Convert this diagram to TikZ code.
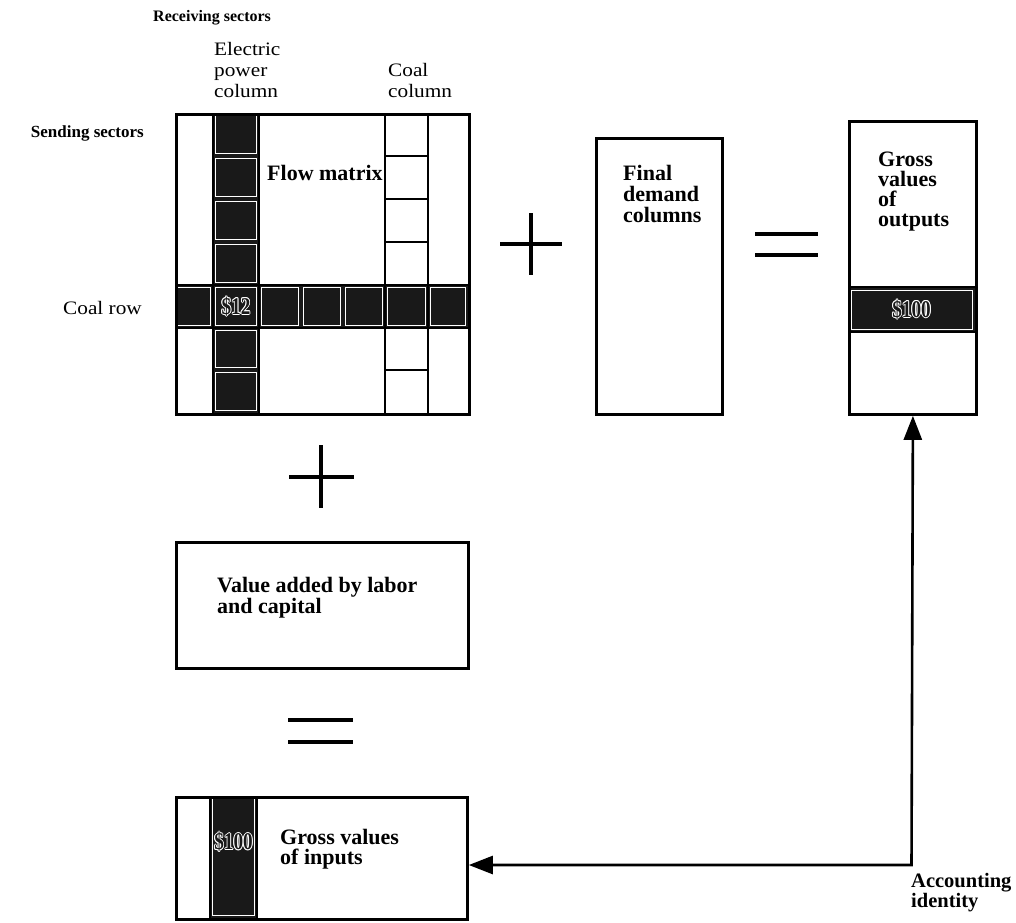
\documentclass[tikz,border=0pt]{standalone}
\usepackage{fontspec}
\setmainfont{Liberation Serif}
\newfontfamily\regfont[FakeStretch=1.12]{Liberation Serif}
\newfontfamily\moneyfont[FakeStretch=0.8]{Liberation Serif}
\usetikzlibrary{arrows.meta}
\newcommand{\hollowtext}[3]{%
  \foreach \a in {0,45,...,315} {\path (#2) ++(\a:0.9pt) node[money, text=white] {#3};}
  \node[money, text=black!90] (#1) at (#2) {#3};
}
\begin{document}
\begin{tikzpicture}[x=1pt,y=-1pt,
  box/.style={draw, line width=2.8pt, rectangle, inner sep=0pt, anchor=north west},
  thinline/.style={line width=1.4pt},
  darkcell/.style={fill=black!90},
  halo/.style={draw=white, line width=0.9pt},
  btxt/.style={font=\fontsize{22}{20}\selectfont\bfseries, inner sep=0pt, align=left},
  hdr/.style={font=\fontsize{16}{19}\selectfont\bfseries, inner sep=0pt, align=left},
  rtxt/.style={font=\fontsize{19}{21}\selectfont\regfont, inner sep=0pt, align=left},
  money/.style={font=\fontsize{24}{24}\selectfont\moneyfont\bfseries, inner sep=0pt},
  sym/.style={line width=3.4pt},
  acc/.style={line width=2.6pt, {Triangle[length=24pt,width=18pt]}-{Triangle[length=24pt,width=18pt]}}
]
\useasboundingbox (0,0) rectangle (1016,922);

% ---------- flow matrix interior ----------
\fill[darkcell] (213,113) rectangle (259,413);
\fill[darkcell] (175,285) rectangle (468,328);
\foreach \ya/\yb in {113/156,156/199,199/242,242/285,285/328,328/370,370/413}
  \draw[halo] (215.5,\ya+2.5) rectangle (256.5,\yb-2.5);
\foreach \xa/\xb in {175/213,259/301,301/343,343/385,385/428,428/468}
  \draw[halo] (\xa+2.5,287.5) rectangle (\xb-2.5,325.5);
\draw[thinline] (213,113) -- (213,413) (259,113) -- (259,413)
  (385,113) -- (385,413) (428,113) -- (428,413)
  (175,285) -- (468,285) (175,328) -- (468,328);
\foreach \y in {156,199,242,370}
  \draw[thinline] (385,\y) -- (428,\y);

% ---------- gross outputs interior ----------
\fill[darkcell] (848,287) rectangle (975,332);
\draw[halo] (851,290) rectangle (972,329);
\draw[thinline] (848,287) -- (975,287) (848,332) -- (975,332);

% ---------- gross inputs interior ----------
\fill[darkcell] (210,796) rectangle (257,918);
\draw[halo] (212.5,798.5) rectangle (254.5,915.5);
\draw[thinline] (210,796) -- (210,918) (257,796) -- (257,918);

% ---------- boxes ----------
\node[box, minimum width=293pt, minimum height=300pt] (flow) at (175,113) {};
\node[box, minimum width=126pt, minimum height=276pt] (final) at (595,137) {};
\node[box, minimum width=127pt, minimum height=293pt] (gout) at (848,120) {};
\node[box, minimum width=292pt, minimum height=126pt] (vadd) at (175,541) {};
\node[box, minimum width=291pt, minimum height=122pt] (gin) at (175,796) {};

% ---------- plus and equals signs ----------
\draw[sym] (500,244) -- (562,244) (531,213) -- (531,275);
\draw[sym] (755,234) -- (818,234) (755,255) -- (818,255);
\draw[sym] (289,477) -- (354,477) (321,445) -- (321,508);
\draw[sym] (288,720) -- (353,720) (288,742) -- (353,742);

% ---------- accounting identity arrow ----------
\coordinate (corner) at (911.5,865);
\draw[acc] (gin.east |- corner) -- (corner) -- (gout.south);

% ---------- dollar values ----------
\hollowtext{m12}{236,306.5}{\$12}
\hollowtext{mout}{911.5,309.5}{\$100}
\hollowtext{min}{233.5,842}{\$100}

% ---------- labels (anchor = baseline of last line) ----------
\node[hdr, anchor=base west] (recv) at (153,21) {Receiving sectors};
\node[rtxt, anchor=base west] (elec) at (214,97) {Electric\\power\\column};
\node[rtxt, anchor=base west] (coalc) at (388,97) {Coal\\column};
\node[hdr, font=\fontsize{17}{19}\selectfont\bfseries, anchor=base east] (send) at (144,137) {Sending sectors};
\node[rtxt, anchor=base east] (coalr) at (142,314) {Coal row};
\node[btxt, anchor=base west] (flowt) at (267,180) {Flow matrix};
\node[btxt, anchor=base west, font=\fontsize{22}{21}\selectfont\bfseries] (finalt) at (623,222) {Final\\demand\\columns};
\node[btxt, anchor=base west] (goutt) at (878,226) {Gross\\values\\of\\outputs};
\node[btxt, anchor=base west] (vaddt) at (217,613) {Value added by labor\\and capital};
\node[btxt, anchor=base west] (gint) at (280,864) {Gross values\\of inputs};
\node[btxt, anchor=base west, font=\fontsize{20.5}{20}\selectfont\bfseries] (acct) at (911,907) {Accounting\\identity};
\end{tikzpicture}
\end{document}
